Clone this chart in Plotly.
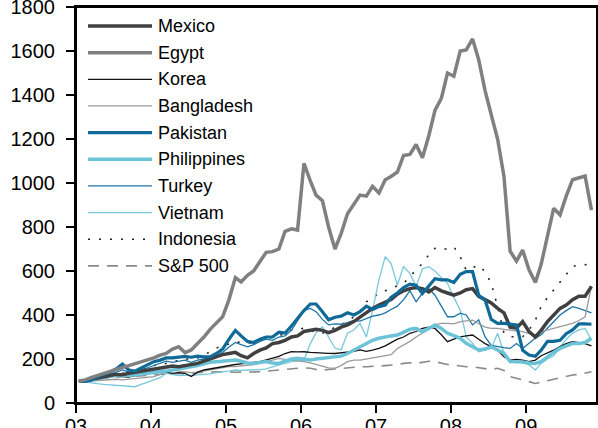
import pandas as pd
import plotly.graph_objects as go

# monthly index levels (Jan 2003 = 100)
months = pd.date_range("2003-01-01", periods=83, freq="MS") + pd.Timedelta(days=14)

mexico = [100, 102, 108, 115, 120, 125, 130, 128, 135, 140, 145, 150, 155, 160, 165, 168, 165, 170, 175, 180,
          190, 200, 210, 220, 225, 230, 215, 205, 225, 240, 250, 270, 275, 285, 300, 305, 325, 332, 335, 330,
          320, 330, 345, 355, 370, 390, 410, 430, 445, 460, 470, 495, 510, 520, 525, 520, 505, 525, 510, 500,
          490, 500, 515, 520, 485, 470, 455, 430, 410, 345, 340, 370, 325, 300, 330, 370, 400, 430, 445, 470,
          485, 485, 530]
egypt = [100, 105, 115, 125, 135, 145, 155, 162, 170, 178, 185, 195, 205, 218, 225, 245, 256, 229, 241, 270,
         300, 335, 362, 392, 470, 570, 550, 580, 600, 640, 685, 688, 700, 780, 792, 786, 1089, 1010, 945, 920,
         800, 700, 770, 860, 905, 945, 940, 985, 955, 1015, 1030, 1050, 1125, 1130, 1175, 1115, 1215, 1330, 1385, 1500,
         1485, 1600, 1605, 1655, 1560, 1420, 1310, 1200, 1030, 690, 645, 695, 605, 548, 630, 760, 885, 855, 940, 1015,
         1022, 1032, 877]
korea = [100, 100, 102, 108, 115, 120, 125, 122, 118, 125, 132, 138, 140, 145, 140, 135, 138, 135, 120, 140,
         150, 155, 162, 165, 170, 175, 178, 180, 185, 188, 195, 203, 212, 225, 233, 232, 233, 230, 228, 226,
         226, 225, 228, 233, 235, 241, 235, 240, 248, 260, 275, 290, 300, 317, 325, 339, 345, 339, 310, 279,
         290, 301, 305, 309, 290, 270, 256, 240, 210, 195, 198, 195, 188, 195, 215, 226, 240, 256, 270, 279,
         275, 270, 260]
bangladesh = [100, 98, 100, 102, 105, 105, 108, 105, 108, 110, 115, 118, 120, 130, 140, 150, 145, 140, 138, 140,
              145, 150, 155, 160, 165, 165, 168, 170, 175, 180, 188, 195, 203, 198, 195, 190, 188, 182, 175, 165,
              160, 158, 170, 188, 195, 195, 200, 205, 210, 215, 220, 248, 264, 280, 300, 317, 335, 355, 362, 362,
              360, 370, 375, 377, 360, 345, 339, 339, 335, 332, 328, 324, 315, 309, 325, 332, 340, 347, 355, 362,
              375, 392, 530]
pakistan = [100, 98, 105, 120, 130, 140, 155, 177, 150, 145, 160, 175, 188, 195, 205, 205, 210, 212, 208, 213,
            210, 210, 225, 245, 290, 330, 305, 280, 275, 290, 300, 300, 322, 318, 350, 385, 420, 450, 450, 415,
            378, 390, 395, 410, 400, 415, 440, 425, 438, 445, 480, 500, 525, 540, 535, 498, 530, 565, 560, 560,
            548, 585, 597, 597, 490, 468, 380, 362, 362, 360, 355, 240, 218, 212, 240, 280, 280, 285, 315, 332,
            360, 360, 358]
philippines = [100, 100, 105, 112, 118, 122, 125, 127, 125, 128, 130, 132, 135, 140, 145, 150, 155, 158, 165, 170,
               178, 185, 188, 190, 195, 195, 190, 182, 180, 185, 188, 182, 180, 190, 200, 203, 198, 195, 200, 203,
               205, 210, 213, 225, 241, 255, 271, 285, 294, 301, 305, 309, 320, 335, 339, 324, 339, 355, 339, 317,
               306, 294, 271, 256, 241, 245, 256, 241, 226, 188, 188, 186, 182, 180, 188, 210, 230, 248, 260, 271,
               271, 275, 294]
turkey = [100, 95, 100, 110, 120, 130, 140, 150, 140, 135, 150, 160, 170, 180, 190, 185, 190, 195, 185, 195,
          200, 205, 215, 230, 255, 275, 265, 255, 265, 280, 290, 285, 300, 305, 330, 375, 420, 430, 415, 380,
          355, 360, 358, 365, 375, 372, 385, 395, 400, 410, 425, 440, 470, 510, 460, 500, 520, 490, 440, 392,
          392, 408, 400, 355, 378, 300, 262, 256, 252, 248, 270, 248, 270, 295, 310, 340, 370, 400, 420, 438,
          430, 420, 410]
vietnam = [100, 95, 90, 88, 85, 83, 82, 80, 78, 74, 85, 95, 105, 115, 135, 130, 125, 127, 125, 128,
           130, 132, 138, 140, 145, 150, 148, 150, 150, 152, 155, 165, 173, 180, 188, 192, 195, 270, 320, 347,
           300, 250, 241, 317, 332, 362, 300, 420, 560, 665, 635, 536, 620, 589, 529, 610, 620, 600, 570, 544,
           480, 423, 301, 271, 233, 240, 248, 317, 226, 190, 188, 185, 173, 150, 180, 200, 215, 256, 290, 317,
           332, 339, 286]
indonesia = [100, 100, 105, 110, 115, 120, 130, 135, 140, 145, 150, 160, 170, 175, 180, 185, 195, 198, 200, 205,
             215, 235, 250, 260, 270, 278, 275, 272, 275, 285, 290, 300, 305, 320, 332, 335, 340, 330, 320, 317,
             330, 345, 355, 370, 392, 420, 460, 480, 498, 510, 521, 530, 544, 575, 604, 635, 673, 703, 695, 703,
             710, 665, 604, 615, 627, 597, 544, 438, 317, 301, 301, 301, 332, 377, 438, 480, 514, 550, 589, 620,
             627, 627, 630]
sp500 = [100, 98, 102, 108, 112, 115, 118, 120, 120, 122, 125, 127, 130, 132, 132, 130, 135, 132, 135, 138,
         140, 140, 142, 140, 142, 140, 140, 140, 142, 142, 145, 148, 150, 155, 157, 158, 160, 158, 152, 150,
         152, 155, 158, 160, 163, 165, 165, 165, 168, 170, 172, 175, 180, 183, 180, 185, 190, 188, 180, 175,
         172, 168, 165, 165, 160, 158, 152, 158, 148, 120, 112, 105, 98, 89, 95, 102, 108, 115, 122, 127,
         130, 135, 142]

year_ticks = pd.date_range("2003-01-01", "2009-01-01", freq="YS")

# name, values, colour, width, dash
styles = [
    ("Mexico", mexico, "#404040", 3.5, "solid"),
    ("Egypt", egypt, "#808080", 3.5, "solid"),
    ("Korea", korea, "#111111", 1.3, "solid"),
    ("Bangladesh", bangladesh, "#9a9a9a", 1.3, "solid"),
    ("Pakistan", pakistan, "#106a98", 3.2, "solid"),
    ("Philippines", philippines, "#6cc3d8", 3.5, "solid"),
    ("Turkey", turkey, "#1a74a6", 1.3, "solid"),
    ("Vietnam", vietnam, "#78c8dd", 1.3, "solid"),
    ("Indonesia", indonesia, "#222222", 1.6, "2px,9px"),
    ("S&P 500", sp500, "#8a8a8a", 1.6, "11px,8px"),
]

draw_order = ["S&P 500", "Indonesia", "Vietnam", "Turkey", "Bangladesh", "Korea",
              "Philippines", "Mexico", "Pakistan", "Egypt"]
lookup = {s[0]: s for s in styles}

fig = go.Figure()
for name in draw_order:
    _, vals, col, w, dash = lookup[name]
    fig.add_trace(go.Scatter(x=months, y=vals, mode="lines", name=name,
                             line=dict(color=col, width=w, dash=dash), showlegend=False))

W, H = 598, 428
ml, mr, mt, mb = 76, 1, 7, 25
pw, ph = W - ml - mr, H - mt - mb

def px(xp):
    return (xp - ml) / pw

def py(yp):
    return (H - mb - yp) / ph

# hand-made legend so the sample lines are as long as in the original
for k, (name, _, col, w, dash) in enumerate(styles):
    yc = 26 + 26.65 * k
    fig.add_shape(type="line", xref="paper", yref="paper",
                  x0=px(88), x1=px(152), y0=py(yc), y1=py(yc),
                  line=dict(color=col, width=w, dash=dash))
    fig.add_annotation(x=px(156), y=py(yc), xref="paper", yref="paper", text=name,
                       showarrow=False, xanchor="left", yanchor="middle",
                       font=dict(size=18, color="black"))

# frame around the plot area
fig.add_shape(type="rect", xref="paper", yref="paper", x0=0, x1=1, y0=0, y1=1,
              line=dict(color="black", width=2), layer="above")

axis_common = dict(showgrid=False, zeroline=False, showline=True, linecolor="black",
                   linewidth=2, mirror=True, ticks="outside", ticklen=8, tickwidth=1.5,
                   tickcolor="black", tickfont=dict(size=20, color="black"),
                   automargin=False, ticklabeloverflow="allow")

fig.update_layout(
    width=W, height=H,
    margin=dict(l=ml, r=mr, t=mt, b=mb),
    paper_bgcolor="white", plot_bgcolor="white",
    font=dict(family="Liberation Sans, Arial, sans-serif", color="black"),
    showlegend=False,
    xaxis=dict(type="date", range=["2003-01-01", "2009-12-12"], tickvals=year_ticks,
               tickformat="%y", ticklabelstandoff=-4, **axis_common),
    yaxis=dict(range=[0, 1800], tickvals=list(range(0, 1801, 200)),
               ticklabelstandoff=7, **axis_common),
)

# drop the browser's default page margin so the figure sits at the window corner
fig.write_html("out.html", config={"displayModeBar": False},
               post_script="document.body.style.margin='0';")
